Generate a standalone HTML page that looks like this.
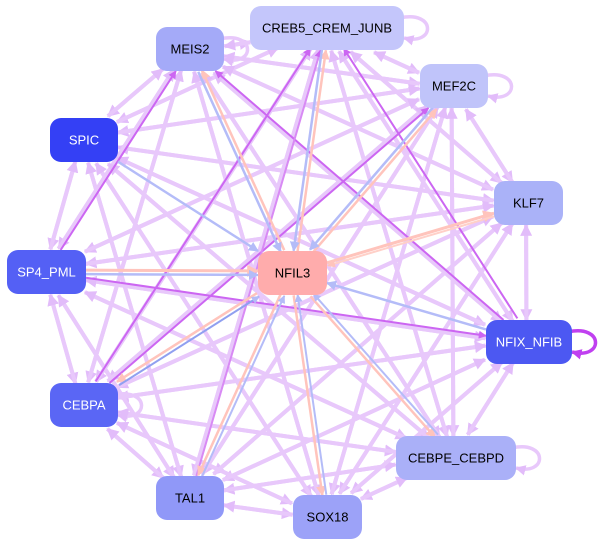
<!DOCTYPE html>
<html><head><meta charset="utf-8"><style>
html,body{margin:0;padding:0;background:#fff;width:604px;height:547px;overflow:hidden}
svg{display:block}
text{font-family:"Liberation Sans",sans-serif;font-size:13px;text-anchor:middle;dominant-baseline:central}
</style></head><body>
<svg id="s" width="604" height="547" viewBox="0 0 604 547">
<defs>
<marker id="mL" viewBox="0 0 10 10" refX="9" refY="5" markerWidth="3" markerHeight="3" orient="auto" markerUnits="strokeWidth"><path d="M0,0L10,5L0,10z" fill="#e2bcfa"/></marker>
<marker id="mP" viewBox="0 0 10 10" refX="9" refY="5" markerWidth="4" markerHeight="4" orient="auto" markerUnits="strokeWidth"><path d="M0,0L10,5L0,10z" fill="#cc66f2"/></marker>
<marker id="mB" viewBox="0 0 10 10" refX="9" refY="5" markerWidth="4" markerHeight="4" orient="auto" markerUnits="strokeWidth"><path d="M0,0L10,5L0,10z" fill="#b4bcf8"/></marker>
<marker id="mR" viewBox="0 0 10 10" refX="9" refY="5" markerWidth="4" markerHeight="4" orient="auto" markerUnits="strokeWidth"><path d="M0,0L10,5L0,10z" fill="#ffc4bc"/></marker>
<marker id="mD" viewBox="0 0 10 10" refX="9" refY="5" markerWidth="3" markerHeight="3" orient="auto" markerUnits="strokeWidth"><path d="M0,0L10,5L0,10z" fill="#c040f0"/></marker>
</defs>
<g id="edges"></g>
<g id="nodes"></g>
</svg>
<script>
var N={
MEIS2:[156,27,68,44,"#a4aaf8","#000"],
CREB5_CREM_JUNB:[250,6,154,44,"#c4c6fb","#000"],
MEF2C:[420,64,68,44,"#c0c4fa","#000"],
SPIC:[50,118,68,44,"#3440f5","#fff"],
KLF7:[494,181,69,44,"#aab2f8","#000"],
NFIL3:[258,251,69,44,"#ffacac","#000"],
SP4_PML:[7,250,79,44,"#5460f5","#fff"],
NFIX_NFIB:[486,320,86,44,"#4c58f2","#fff"],
CEBPA:[50,383,68,44,"#5a66f5","#fff"],
CEBPE_CEBPD:[396,436,120,44,"#aab0f8","#000"],
TAL1:[156,476,68,44,"#9098f8","#000"],
SOX18:[293,495,69,44,"#9ca2f8","#000"]};
function c(n){var a=N[n];return [a[0]+a[2]/2,a[1]+a[3]/2];}
function bnd(n,dx,dy){var a=N[n],hw=a[2]/2,hh=a[3]/2;var t=Math.min(hw/Math.abs(dx||1e-9),hh/Math.abs(dy||1e-9));return t;}
var E=document.getElementById("edges"),ns="http://www.w3.org/2000/svg";
function line(a,b,col,w,m,off){var p=c(a),q=c(b);var dx=q[0]-p[0],dy=q[1]-p[1],L=Math.hypot(dx,dy);var ux=dx/L,uy=dy/L;var ox=-uy*(off||0),oy=ux*(off||0);
var t1=bnd(a,dx,dy),t2=bnd(b,dx,dy);
var x1=p[0]+dx*t1+ox,y1=p[1]+dy*t1+oy,x2=q[0]-dx*t2+ox,y2=q[1]-dy*t2+oy;
var l=document.createElementNS(ns,"line");l.setAttribute("x1",x1);l.setAttribute("y1",y1);l.setAttribute("x2",x2);l.setAttribute("y2",y2);
l.setAttribute("stroke",col);l.setAttribute("stroke-width",w);l.setAttribute("marker-end","url(#"+m+")");E.appendChild(l);}
var names=Object.keys(N);
for(var i=0;i<names.length;i++)for(var j=0;j<names.length;j++){if(i==j)continue;var a=names[i],b=names[j];
if(a=="NFIL3"||b=="NFIL3")continue;
if((i*7+j*3)%5==0)continue;
line(a,b,"#e8c8fb",4,"mL",i<j?2.5:-2.5);}
var P="#cc66f2",B="#b4bcf8",R="#ffc4bc";
line("SP4_PML","NFIX_NFIB",P,2,"mP");
line("NFIX_NFIB","MEIS2",P,2,"mP");
line("NFIX_NFIB","CREB5_CREM_JUNB",P,2,"mP",3);
line("SP4_PML","MEIS2",P,2,"mP");
line("CEBPA","MEF2C",P,2,"mP");
line("CEBPA","CREB5_CREM_JUNB",P,2,"mP",-3);
line("TAL1","CREB5_CREM_JUNB","#d88af4",2,"mP");
line("SPIC","NFIL3",B,2.5,"mB");
line("NFIL3","MEIS2",R,2.5,"mR",2);line("MEIS2","NFIL3",B,2.5,"mB",2);
line("NFIL3","CREB5_CREM_JUNB",R,2.5,"mR",2);line("CREB5_CREM_JUNB","NFIL3",B,2.5,"mB",2);
line("NFIL3","MEF2C",R,2.5,"mR",2);line("MEF2C","NFIL3",B,2.5,"mB",2);
line("NFIL3","KLF7",R,3,"mR");
line("SP4_PML","NFIL3",R,3,"mR",-2);line("SP4_PML","NFIL3",B,2.5,"mB",2);
line("NFIX_NFIB","NFIL3",B,2.5,"mB");
line("NFIL3","CEBPA",R,2.5,"mR",2);line("CEBPA","NFIL3","#90a0f0",2,"mB",2);
line("NFIL3","TAL1",R,2.5,"mR",2);line("TAL1","NFIL3",B,2,"mB",2);
line("NFIL3","SOX18",R,2.5,"mR",2);line("SOX18","NFIL3",B,2,"mB",2);
line("NFIL3","CEBPE_CEBPD",R,2.5,"mR",2);line("CEBPE_CEBPD","NFIL3",B,2,"mB",2);
line("KLF7","NFIL3","#ffd0c8",2,"mR",-3);
function loop(n,col,w,m){var a=N[n];var x=a[0]+a[2]-4,y1=a[1]+12,y2=a[1]+a[3]-12;var p=document.createElementNS(ns,"path");
p.setAttribute("d","M"+x+","+y1+" C"+(x+36)+","+(y1-8)+" "+(x+36)+","+(y2+8)+" "+(x+4)+","+y2);p.setAttribute("fill","none");p.setAttribute("stroke",col);p.setAttribute("stroke-width",w);p.setAttribute("marker-end","url(#"+m+")");E.appendChild(p);}
["CREB5_CREM_JUNB","MEF2C","CEBPA","CEBPE_CEBPD","MEIS2"].forEach(function(n){loop(n,"#e8c8fb",3.5,"mL");});
loop("NFIX_NFIB","#c040f0",3.5,"mD");
var G=document.getElementById("nodes");
names.forEach(function(n){var a=N[n];var r=document.createElementNS(ns,"rect");r.setAttribute("x",a[0]);r.setAttribute("y",a[1]);r.setAttribute("width",a[2]);r.setAttribute("height",a[3]);r.setAttribute("rx",11);r.setAttribute("fill",a[4]);G.appendChild(r);
var t=document.createElementNS(ns,"text");t.setAttribute("x",a[0]+a[2]/2);t.setAttribute("y",a[1]+a[3]/2);t.setAttribute("fill",a[5]);t.textContent=n;G.appendChild(t);});
</script>
</body></html>
